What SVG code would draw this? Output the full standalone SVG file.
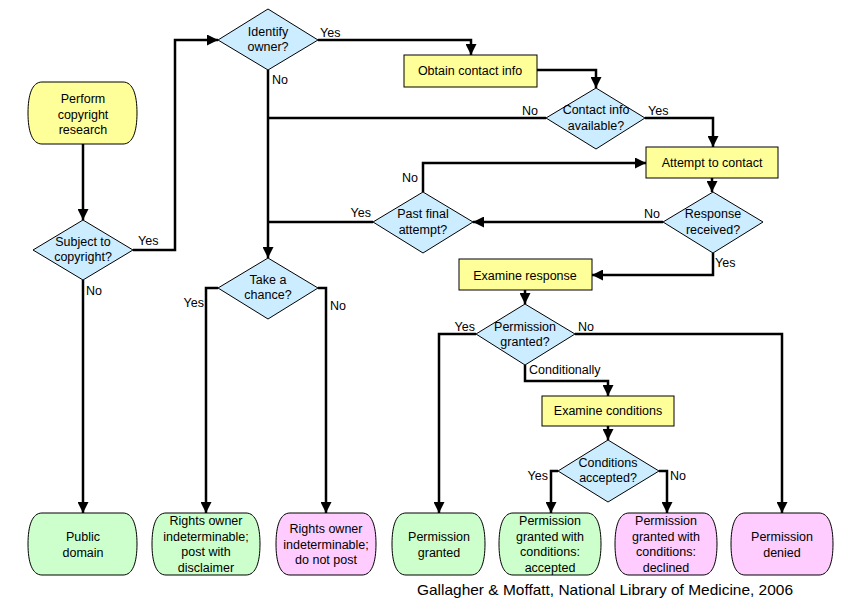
<svg xmlns="http://www.w3.org/2000/svg" width="842" height="605" viewBox="0 0 842 605">
<defs>
<marker id="ah" viewBox="0 0 10 10" refX="10" refY="5" markerWidth="4.4" markerHeight="4.4" orient="auto" markerUnits="strokeWidth">
<path d="M0,0 L10,5 L0,10 Z" fill="#000"/>
</marker>
<style>
text{font-family:"Liberation Sans",Arial,sans-serif;font-size:12.5px;fill:#000}
.c{text-anchor:middle}
.e{text-anchor:end}
.ln{fill:none;stroke:#000;stroke-width:2.5;stroke-linejoin:miter}
.ar{marker-end:url(#ah)}
.y{fill:#FFFF99;stroke:#000;stroke-width:1}
.b{fill:#CCECFF;stroke:#000;stroke-width:1}
.g{fill:#CCFFCC;stroke:#000;stroke-width:1}
.p{fill:#FFCCFF;stroke:#000;stroke-width:1}
</style>
</defs>
<rect width="842" height="605" fill="#fff"/>

<g id="connectors">
<path class="ln ar" d="M83,144 V220"/>
<path class="ln ar" d="M133,250 H175 V40 H218"/>
<path class="ln ar" d="M318,40 H471 V55"/>
<path class="ln ar" d="M537,70 H596 V88"/>
<path class="ln" d="M546,118 H268"/>
<path class="ln ar" d="M645,118 H713 V147"/>
<path class="ln ar" d="M712,178 V192"/>
<path class="ln ar" d="M663,222 H473"/>
<path class="ln ar" d="M423,192 V163 H646"/>
<path class="ln" d="M373,222 H268"/>
<path class="ln ar" d="M268,70 V258"/>
<path class="ln ar" d="M713,253 V275 H592"/>
<path class="ln ar" d="M525,290 V304"/>
<path class="ln ar" d="M476,334 H439 V513"/>
<path class="ln ar" d="M575,334 H782 V513"/>
<path class="ln ar" d="M525,365 V381 H608 V396"/>
<path class="ln ar" d="M608,426 V440"/>
<path class="ln ar" d="M558,471 H551 V513"/>
<path class="ln ar" d="M659,471 H667 V513"/>
<path class="ln ar" d="M218,288 H206 V513"/>
<path class="ln ar" d="M318,288 H326 V513"/>
<path class="ln ar" d="M83,280 V513"/>
<text x="138" y="245">Yes</text>
<text x="320" y="37">Yes</text>
<text x="272" y="84">No</text>
<text x="86" y="295">No</text>
<text x="538" y="115" class="e">No</text>
<text x="648" y="115">Yes</text>
<text x="418" y="182" class="e">No</text>
<text x="371" y="217" class="e">Yes</text>
<text x="660" y="218" class="e">No</text>
<text x="715" y="267">Yes</text>
<text x="204" y="307" class="e">Yes</text>
<text x="330" y="310">No</text>
<text x="475" y="331" class="e">Yes</text>
<text x="578" y="331">No</text>
<text x="529" y="374">Conditionally</text>
<text x="548" y="480" class="e">Yes</text>
<text x="670" y="480">No</text>
</g>

<g id="perform">
<path class="y" d="M42,82 H123 C133,82 137,95 137,113 C137,131 133,144 123,144 H42 C32,144 28,131 28,113 C28,95 32,82 42,82 Z"/>
<text x="83" y="103" class="c">Perform</text>
<text x="83" y="119" class="c">copyright</text>
<text x="83" y="134" class="c">research</text>
</g>

<g id="subject">
<polygon class="b" points="83,220 133,250 83,280 33,250"/>
<text x="83" y="246" class="c">Subject to</text>
<text x="83" y="261" class="c">copyright?</text>
</g>

<g id="identify">
<polygon class="b" points="268,9 318,40 268,70 218,40"/>
<text x="268" y="36" class="c">Identify</text>
<text x="268" y="51" class="c">owner?</text>
</g>

<g id="obtain">
<rect class="y" x="404" y="55" width="133" height="32"/>
<text x="470" y="75" class="c">Obtain contact info</text>
</g>

<g id="contactinfo">
<polygon class="b" points="596,88 645,118 596,149 546,118"/>
<text x="596" y="114" class="c">Contact info</text>
<text x="596" y="130" class="c">available?</text>
</g>

<g id="attempt">
<rect class="y" x="646" y="147" width="132" height="31"/>
<text x="712" y="167" class="c">Attempt to contact</text>
</g>

<g id="response">
<polygon class="b" points="713,192 763,222 713,253 663,222"/>
<text x="713" y="218" class="c">Response</text>
<text x="713" y="234" class="c">received?</text>
</g>

<g id="pastfinal">
<polygon class="b" points="423,192 473,222 423,253 373,222"/>
<text x="423" y="218" class="c">Past final</text>
<text x="423" y="234" class="c">attempt?</text>
</g>

<g id="examineresponse">
<rect class="y" x="459" y="259" width="133" height="31"/>
<text x="525" y="280" class="c">Examine response</text>
</g>

<g id="takechance">
<polygon class="b" points="268,258 318,288 268,319 218,288"/>
<text x="268" y="284" class="c">Take a</text>
<text x="268" y="299" class="c">chance?</text>
</g>

<g id="permgranted">
<polygon class="b" points="525,304 575,334 525,365 476,334"/>
<text x="525" y="331" class="c">Permission</text>
<text x="525" y="346" class="c">granted?</text>
</g>

<g id="examineconditions">
<rect class="y" x="542" y="396" width="132" height="30"/>
<text x="608" y="415" class="c">Examine conditions</text>
</g>

<g id="condaccepted">
<polygon class="b" points="608,440 659,471 608,502 558,471"/>
<text x="608" y="467" class="c">Conditions</text>
<text x="608" y="482" class="c">accepted?</text>
</g>

<g id="publicdomain">
<path class="g" d="M42,513 H123 C133,513 137,526 137,544 C137,562 133,575 123,575 H42 C32,575 28,562 28,544 C28,526 32,513 42,513 Z"/>
<text x="83" y="541" class="c">Public</text>
<text x="83" y="557" class="c">domain</text>
</g>

<g id="postdisclaimer">
<path class="g" d="M166,513 H246 C256,513 260,526 260,544 C260,562 256,575 246,575 H166 C156,575 152,562 152,544 C152,526 156,513 166,513 Z"/>
<text x="206" y="525" class="c">Rights owner</text>
<text x="206" y="541" class="c">indeterminable;</text>
<text x="206" y="556" class="c">post with</text>
<text x="206" y="572" class="c">disclaimer</text>
</g>

<g id="donotpost">
<path class="p" d="M290,513 H362 C372,513 376,526 376,544 C376,562 372,575 362,575 H290 C280,575 276,562 276,544 C276,526 280,513 290,513 Z"/>
<text x="326" y="533" class="c">Rights owner</text>
<text x="326" y="549" class="c">indeterminable;</text>
<text x="326" y="564" class="c">do not post</text>
</g>

<g id="permissiongranted">
<path class="g" d="M406,513 H471 C481,513 485,526 485,544 C485,562 481,575 471,575 H406 C396,575 392,562 392,544 C392,526 396,513 406,513 Z"/>
<text x="439" y="541" class="c">Permission</text>
<text x="439" y="557" class="c">granted</text>
</g>

<g id="condaccept">
<path class="g" d="M513,513 H587 C597,513 601,526 601,544 C601,562 597,575 587,575 H513 C503,575 499,562 499,544 C499,526 503,513 513,513 Z"/>
<text x="550" y="525" class="c">Permission</text>
<text x="550" y="541" class="c">granted with</text>
<text x="550" y="556" class="c">conditions:</text>
<text x="550" y="572" class="c">accepted</text>
</g>

<g id="conddeclined">
<path class="p" d="M629,513 H703 C713,513 717,526 717,544 C717,562 713,575 703,575 H629 C619,575 615,562 615,544 C615,526 619,513 629,513 Z"/>
<text x="666" y="525" class="c">Permission</text>
<text x="666" y="541" class="c">granted with</text>
<text x="666" y="556" class="c">conditions:</text>
<text x="666" y="572" class="c">declined</text>
</g>

<g id="denied">
<path class="p" d="M745,513 H819 C829,513 833,526 833,544 C833,562 829,575 819,575 H745 C735,575 731,562 731,544 C731,526 735,513 745,513 Z"/>
<text x="782" y="541" class="c">Permission</text>
<text x="782" y="557" class="c">denied</text>
</g>

<text x="417" y="595" style="font-size:14.5px" textLength="376" lengthAdjust="spacingAndGlyphs">Gallagher &amp; Moffatt, National Library of Medicine, 2006</text>
</svg>
